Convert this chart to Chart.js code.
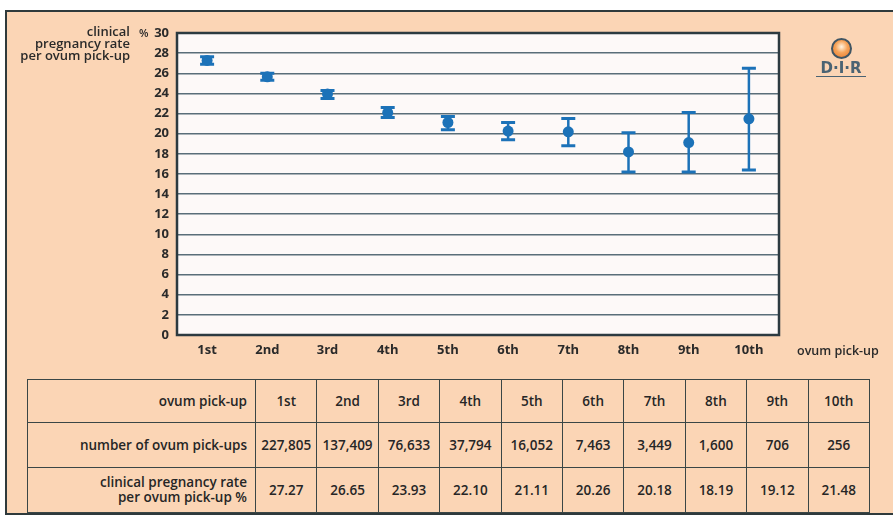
<!DOCTYPE html>
<html>
<head>
<meta charset="utf-8">
<script src="https://cdn.jsdelivr.net/npm/chart.js@4.4.0/dist/chart.umd.min.js"></script>
<style>
  body { margin: 0; background: #fff; width: 895px; height: 515px; overflow: hidden; font-family: 'Open Sans', sans-serif; }
  #frame { position: absolute; left: 5px; top: 10px; width: 886px; height: 501px; border: 2px solid #2f3a3c; border-right: none; background: #fbd5b5; }
  #chartBox { position: absolute; left: 0; top: 0; width: 895px; height: 370px; }
  .ytitle { position: absolute; right: 765px; top: 25px; text-align: right; font-size: 13px; line-height: 12px; font-weight: 600; color: #2a2a2a; }
  .pct { position: absolute; left: 139px; top: 25px; font-size: 11px; font-weight: 600; color: #2a2a2a; }
  .xtitle { position: absolute; left: 797px; top: 342px; font-size: 12.5px; font-weight: 600; color: #2a2a2a; }
  .logo { position: absolute; left: 816px; top: 38px; width: 50px; text-align: center; }
  .logo .ball { width: 17px; height: 17px; margin: 0 auto; border: 2px solid #3f5563; border-radius: 50%;
    background: radial-gradient(circle at 50% 40%, #fff3e0 0%, #f6a45a 45%, #e8772a 100%); }
  .logo .txt { font-family: 'DejaVu Sans', sans-serif; font-weight: bold; font-size: 15px; color: #4a6373; letter-spacing: 0px; line-height: 16px; border-bottom: 1px solid #4a6373; margin-top: 1px; }
  table { position: absolute; left: 27px; top: 379px; width: 842px; height: 133px; border-collapse: collapse; table-layout: fixed; font-size: 13.5px; font-weight: 600; color: #262626; }
  td { border: 1.5px solid #3a4646; text-align: center; padding: 0; white-space: nowrap; }
  td.lab { text-align: right; padding-right: 8px; line-height: 15px; }
</style>
</head>
<body>
<div id="frame"></div>
<div id="chartBox"><canvas id="chart"></canvas></div>
<div class="ytitle">clinical<br>pregnancy rate<br>per ovum pick-up</div>
<div class="pct">%</div>
<div class="xtitle">ovum pick-up</div>
<div class="logo"><div class="ball"></div><div class="txt">D·I·R</div></div>
<table id="tbl"><colgroup><col style="width:228px"></colgroup></table>
<script>
const pickups = ['1st', '2nd', '3rd', '4th', '5th', '6th', '7th', '8th', '9th', '10th'];
const numPickups = [227805, 137409, 76633, 37794, 16052, 7463, 3449, 1600, 706, 256];
const tableRate = [27.27, 26.65, 23.93, 22.10, 21.11, 20.26, 20.18, 18.19, 19.12, 21.48];
// plotted points (2nd point sits at ~25.65 in the figure)
const plotRate = [27.27, 25.65, 23.93, 22.10, 21.11, 20.26, 20.18, 18.19, 19.12, 21.48];
const errLow = [26.9, 25.3, 23.5, 21.6, 20.4, 19.4, 18.8, 16.2, 16.2, 16.4];
const errHigh = [27.65, 26.0, 24.3, 22.6, 21.7, 21.1, 21.5, 20.1, 22.1, 26.5];
const yTicks = [0, 2, 4, 6, 8, 10, 12, 14, 16, 18, 20, 22, 24, 26, 28, 30];

const blue = '#1c72b8';

// table
const tbl = document.getElementById('tbl');
const cg = tbl.querySelector('colgroup');
pickups.forEach(() => { const c = document.createElement('col'); c.style.width = '61.4px'; cg.appendChild(c); });
function addRow(label, cells, h) {
  const tr = document.createElement('tr');
  tr.style.height = h + 'px';
  const th = document.createElement('td');
  th.className = 'lab';
  th.innerHTML = label;
  tr.appendChild(th);
  cells.forEach(c => {
    const td = document.createElement('td');
    td.textContent = c;
    tr.appendChild(td);
  });
  tbl.appendChild(tr);
}
addRow('ovum pick-up', pickups, 43);
addRow('number of ovum pick-ups', numPickups.map(n => n.toLocaleString('en-US')), 45);
addRow('clinical pregnancy rate<br>per ovum pick-up %', tableRate.map(r => r.toFixed(2)), 45);

const errorBars = {
  id: 'errorBars',
  beforeDatasetsDraw(chart) {
    const ctx = chart.ctx;
    const x = chart.scales.x, y = chart.scales.y;
    ctx.save();
    ctx.strokeStyle = blue;
    pickups.forEach((p, i) => {
      const px = x.getPixelForValue(i);
      const lo = y.getPixelForValue(errLow[i]);
      const hi = y.getPixelForValue(errHigh[i]);
      ctx.lineWidth = 2.5;
      ctx.beginPath();
      ctx.moveTo(px, lo); ctx.lineTo(px, hi);
      ctx.stroke();
      ctx.lineWidth = 3;
      ctx.beginPath();
      ctx.moveTo(px - 7, lo); ctx.lineTo(px + 7, lo);
      ctx.moveTo(px - 7, hi); ctx.lineTo(px + 7, hi);
      ctx.stroke();
    });
    ctx.restore();
  }
};

const plotFrame = {
  id: 'plotFrame',
  beforeDraw(chart) {
    const a = chart.chartArea, ctx = chart.ctx;
    ctx.save();
    ctx.fillStyle = '#fdf9f8';
    ctx.fillRect(a.left, a.top, a.right - a.left, a.bottom - a.top);
    ctx.restore();
  },
  afterDraw(chart) {
    const a = chart.chartArea, ctx = chart.ctx;
    ctx.save();
    ctx.strokeStyle = '#2c3a40';
    ctx.lineWidth = 2.5;
    ctx.strokeRect(a.left, a.top, a.right - a.left, a.bottom - a.top);
    ctx.restore();
  }
};

const tickFont = { family: 'Open Sans', size: 13, weight: 'bold' };

new Chart(document.getElementById('chart'), {
  type: 'line',
  data: {
    labels: pickups,
    datasets: [{
      data: plotRate,
      showLine: false,
      pointRadius: 5.5,
      pointBackgroundColor: blue,
      pointBorderColor: blue,
      pointBorderWidth: 0
    }]
  },
  options: {
    responsive: true,
    maintainAspectRatio: false,
    animation: false,
    layout: { padding: { left: 0, top: 33, right: 116, bottom: 0 } },
    plugins: { legend: { display: false }, tooltip: { enabled: false } },
    scales: {
      x: {
        offset: true,
        grid: { display: false, drawTicks: false },
        border: { display: false },
        ticks: { color: '#2a2a2a', padding: 7, font: tickFont },
        afterFit(s) { s.height = 35; }
      },
      y: {
        min: 0, max: 30,
        afterBuildTicks(s) { s.ticks = yTicks.map(v => ({ value: v })); },
        grid: { color: '#5a6e79', lineWidth: 1.5, drawTicks: false },
        border: { display: false },
        ticks: { color: '#2a2a2a', padding: 8, font: tickFont },
        afterFit(s) { s.width = 177; }
      }
    }
  },
  plugins: [plotFrame, errorBars]
});
</script>
</body>
</html>
